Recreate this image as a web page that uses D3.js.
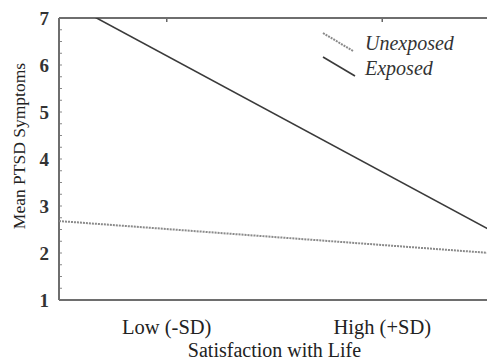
<!DOCTYPE html>
<html><head><meta charset="utf-8">
<script src="https://cdn.jsdelivr.net/npm/d3@7"></script>
<style>body{margin:0;background:#fff}svg{display:block}text{font-family:"Liberation Serif","Times New Roman",serif}</style>
</head><body>
<svg id="c" width="487" height="362"></svg>
<script>
const categories = ["Low (-SD)", "High (+SD)"];
const categoryPos = [0, 1];
// line endpoints read at the left and right plot edges
const edgeX = [-0.5, 1.5];
const unexposed = [2.68, 2.00];
const exposed = [7.43, 2.49];
const yTicks = [1, 2, 3, 4, 5, 6, 7];
const seriesNames = ["Unexposed", "Exposed"];

const svg = d3.select("#c");
const L = 59, R = 490, T = 18, B = 300;
const x = d3.scaleLinear().domain([-0.5, 1.5]).range([L, R]);
const y = d3.scaleLinear().domain([1, 7]).range([B, T]);
const axisColor = "#6e6e6e";

svg.append("defs").append("clipPath").attr("id", "clip")
  .append("rect").attr("x", L).attr("y", T).attr("width", R - L).attr("height", B - T);

// minor ticks on left axis (inward)
const minor = d3.range(1, 7.001, 0.25);
svg.append("g").selectAll("line").data(minor).join("line")
  .attr("x1", L).attr("x2", L + 3).attr("y1", d => y(d)).attr("y2", d => y(d))
  .attr("stroke", "#888").attr("stroke-width", 1);

// top ticks at categories (inward)
svg.append("g").selectAll("line").data(categoryPos).join("line")
  .attr("x1", d => x(d)).attr("x2", d => x(d)).attr("y1", T).attr("y2", T + 4)
  .attr("stroke", "#666").attr("stroke-width", 1.5);

// frame
svg.append("line").attr("x1", L).attr("x2", R).attr("y1", T).attr("y2", T).attr("stroke", axisColor).attr("stroke-width", 2);
svg.append("line").attr("x1", L).attr("x2", R).attr("y1", B).attr("y2", B).attr("stroke", axisColor).attr("stroke-width", 2);
svg.append("line").attr("x1", L).attr("x2", L).attr("y1", T).attr("y2", B).attr("stroke", axisColor).attr("stroke-width", 2);

// y tick labels
svg.append("g").selectAll("text").data(yTicks).join("text")
  .attr("x", L - 10).attr("y", d => y(d)).attr("dy", "0.35em")
  .attr("text-anchor", "end").attr("font-size", 19).attr("font-weight", "bold")
  .attr("fill", "#333").text(d => d);

// x category labels
svg.append("g").selectAll("text").data(categories).join("text")
  .attr("x", (d, i) => x(categoryPos[i])).attr("y", 334)
  .attr("text-anchor", "middle").attr("font-size", 20.5).attr("fill", "#222").text(d => d);

// axis titles
svg.append("text").attr("x", x(0.5)).attr("y", 357).attr("text-anchor", "middle")
  .attr("font-size", 20).attr("fill", "#222").text("Satisfaction with Life");
svg.append("text").attr("transform", `translate(25,146) rotate(-90)`)
  .attr("text-anchor", "middle").attr("font-size", 17.5).attr("fill", "#222").text("Mean PTSD Symptoms");

// lines
const line = d3.line().x(d => x(d[0])).y(d => y(d[1]));
const g = svg.append("g").attr("clip-path", "url(#clip)");
g.append("path").datum(edgeX.map((e, i) => [e, unexposed[i]])).attr("d", line)
  .attr("fill", "none").attr("stroke", "#8a8a8a").attr("stroke-width", 2).attr("stroke-dasharray", "2,1");
g.append("path").datum(edgeX.map((e, i) => [e, exposed[i]])).attr("d", line)
  .attr("fill", "none").attr("stroke", "#3a3a3a").attr("stroke-width", 1.6);

// legend
const leg = svg.append("g");
leg.append("line").attr("x1", 323).attr("y1", 33).attr("x2", 353).attr("y2", 51)
  .attr("stroke", "#8a8a8a").attr("stroke-width", 2).attr("stroke-dasharray", "2,1");
leg.append("line").attr("x1", 323).attr("y1", 57).attr("x2", 355).attr("y2", 76)
  .attr("stroke", "#3a3a3a").attr("stroke-width", 1.6);
leg.selectAll("text").data(seriesNames).join("text")
  .attr("x", 365).attr("y", (d, i) => 50 + i * 25)
  .attr("font-size", 20).attr("font-style", "italic").attr("fill", "#333").text(d => d);
</script>
</body></html>
